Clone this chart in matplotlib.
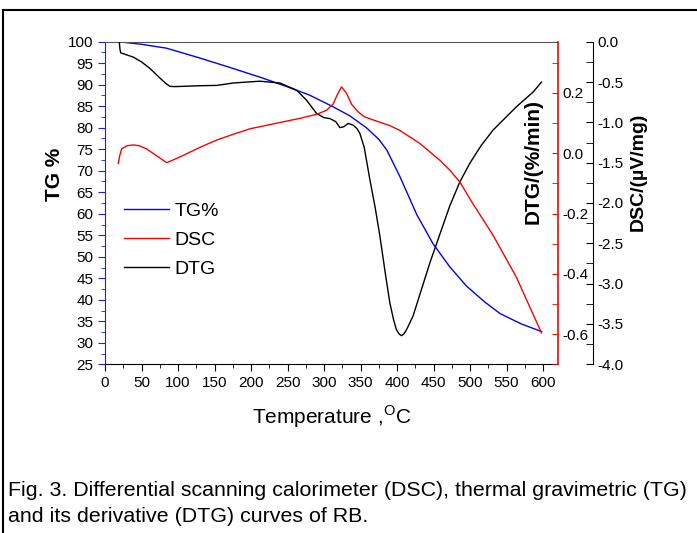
import matplotlib
matplotlib.use("Agg")
import matplotlib.pyplot as plt
from matplotlib.lines import Line2D
from matplotlib.ticker import MultipleLocator, FormatStrFormatter

plt.rcParams['font.family'] = ['Liberation Sans', 'DejaVu Sans']
plt.rcParams['axes.unicode_minus'] = False
plt.rcParams['mathtext.fontset'] = 'custom'
plt.rcParams['mathtext.rm'] = 'Liberation Sans'

# TG curve (left axis, %)
tg_temp = [18, 50, 84, 130, 175, 215, 250, 280, 312, 335, 358, 375, 386, 404,
           427, 449, 472, 495, 520, 541, 570, 598]
tg_val = [100, 99.4, 98.5, 96.2, 93.8, 91.6, 89.5, 87.6, 84.9, 82.8, 80.0, 77.3,
          74.8, 68.6, 59.8, 53.1, 47.7, 43.2, 39.5, 36.8, 34.4, 32.6]

# DSC curve (offset black axis, uV/mg)
dsc_temp = [18.2, 20, 22.8, 30, 38.7, 47, 57, 70, 84.4, 95, 107, 130, 152.9, 175,
            198.5, 230, 267, 290, 303.5, 312.6, 318, 324, 330.8, 338, 346.8, 355,
            367.3, 390, 403.8, 431, 458.6, 472, 486, 504, 531.5, 563.4, 586.3, 597.8]
dsc_val = [-1.51, -1.42, -1.33, -1.29, -1.28, -1.29, -1.33, -1.41, -1.50, -1.46,
           -1.41, -1.31, -1.22, -1.15, -1.08, -1.02, -0.95, -0.90, -0.85, -0.77,
           -0.66, -0.56, -0.64, -0.78, -0.87, -0.93, -0.97, -1.04, -1.10, -1.26,
           -1.47, -1.59, -1.74, -2.01, -2.40, -2.92, -3.38, -3.61]

# DTG curve (red right axis, %/min)
dtg_temp = [19.6, 20.5, 21.5, 38.7, 50, 61.6, 75, 84, 89, 95, 107, 130, 153, 175.6,
            212, 239.6, 262.4, 276, 289.8, 300, 308, 316, 321.7, 327, 333, 340, 345,
            349, 355, 362.8, 370, 376.5, 384, 390, 395, 399, 403, 406, 409, 413, 418,
            422, 445, 472, 486, 499.7, 515, 531.5, 563.4, 586.3, 597.8]
dtg_val = [0.368, 0.345, 0.333, 0.319, 0.303, 0.281, 0.25, 0.23, 0.222, 0.221,
           0.222, 0.224, 0.225, 0.233, 0.239, 0.233, 0.209, 0.176, 0.132, 0.118,
           0.115, 0.105, 0.085, 0.088, 0.099, 0.093, 0.082, 0.066, 0.02, -0.088,
           -0.18, -0.275, -0.40, -0.495, -0.55, -0.585, -0.600, -0.605, -0.600,
           -0.585, -0.560, -0.539, -0.363, -0.176, -0.095, -0.033, 0.025, 0.077,
           0.154, 0.203, 0.236]

fig = plt.figure(figsize=(6.97, 5.33), dpi=100)
ax = fig.add_axes([105/697, 1-364.3/533, 452.7/697, 322.6/533])
ax2 = ax.twinx()
ax3 = ax.twinx()

l1, = ax.plot(tg_temp, tg_val, color='#0000ff', lw=1.0, label='TG%')
l2, = ax3.plot(dsc_temp, dsc_val, color='#ff0000', lw=1.0, label='DSC')
l3, = ax2.plot(dtg_temp, dtg_val, color='black', lw=1.0, label='DTG')

# main axis
ax.set_xlim(0, 620)
ax.set_ylim(25, 100)
ax.xaxis.set_minor_locator(MultipleLocator(25))
ax.yaxis.set_major_locator(MultipleLocator(5))
ax.yaxis.set_minor_locator(MultipleLocator(2.5))
ax.set_xticks(range(0, 601, 50))
ax.tick_params(axis='x', which='both', direction='out', labelsize=11, length=5)
ax.tick_params(axis='x', which='minor', length=3)
ax.tick_params(axis='y', which='both', direction='out', colors='#2020e0',
               labelcolor='black', labelsize=11, length=5)
ax.tick_params(axis='y', which='minor', length=3)
ax.spines['left'].set_color('#2020e0')
ax.spines['top'].set_color('#555555')
ax.spines['right'].set_visible(False)

# DTG axis (red)
ax2.set_ylim(-0.70, 0.37)
ax2.yaxis.set_major_locator(MultipleLocator(0.2))
ax2.yaxis.set_minor_locator(MultipleLocator(0.1))
ax2.yaxis.set_major_formatter(FormatStrFormatter('%.1f'))
ax2.tick_params(axis='y', which='both', direction='in', colors='red',
                labelcolor='black', labelsize=11, length=4)
ax2.spines['right'].set_color('red')
ax2.spines['right'].set_linewidth(1.2)
for s in ['left', 'top', 'bottom']:
    ax2.spines[s].set_visible(False)

# DSC axis (black, offset)
ax3.set_ylim(-4.0, 0.0)
ax3.spines['right'].set_position(('outward', 25.2))
ax3.yaxis.set_major_locator(MultipleLocator(0.5))
ax3.yaxis.set_minor_locator(MultipleLocator(0.25))
ax3.yaxis.set_major_formatter(FormatStrFormatter('%.1f'))
ax3.tick_params(axis='y', which='both', direction='in', colors='black',
                labelsize=11, length=5)
for s in ['left', 'top', 'bottom']:
    ax3.spines[s].set_visible(False)

# axis labels
fig.text(55/697, 1-174/533, 'TG %', rotation=90, ha='center', va='center',
         fontsize=15, fontweight='bold')
fig.text(533/697, 1-161/533, 'DTG/(%/min)', rotation=90, ha='center', va='center',
         fontsize=15, fontweight='bold')
fig.text(638/697, 1-172/533, 'DSC/(\u00b5V/mg)', rotation=90, ha='center', va='center',
         fontsize=14, fontweight='bold')
fig.text(331.7/697, 1-417/533, r'Temperature ,$^{\mathrm{O}}$C', ha='center',
         va='center', fontsize=15)

ax.legend(handles=[l1, l2, l3], loc='upper left', bbox_to_anchor=(124/697, 1-202/533),
          bbox_transform=fig.transFigure, frameon=False, fontsize=14,
          handlelength=2.3, handletextpad=0.3, labelspacing=0.6,
          borderpad=0, borderaxespad=0)

# caption
fig.text(8/697, 1-490/533,
         'Fig. 3. Differential scanning calorimeter (DSC), thermal gravimetric (TG)',
         ha='left', va='center', fontsize=15.4)
fig.text(8/697, 1-517/533, 'and its derivative (DTG) curves of RB.',
         ha='left', va='center', fontsize=15.4)

# frame lines of the figure
fig.add_artist(Line2D([3/697, 1], [1-10/533, 1-10/533], transform=fig.transFigure,
                      color='black', lw=1.5))
fig.add_artist(Line2D([3/697, 3/697], [0, 1-10/533], transform=fig.transFigure,
                      color='black', lw=1.5))

fig.savefig('out.png', dpi=100)
